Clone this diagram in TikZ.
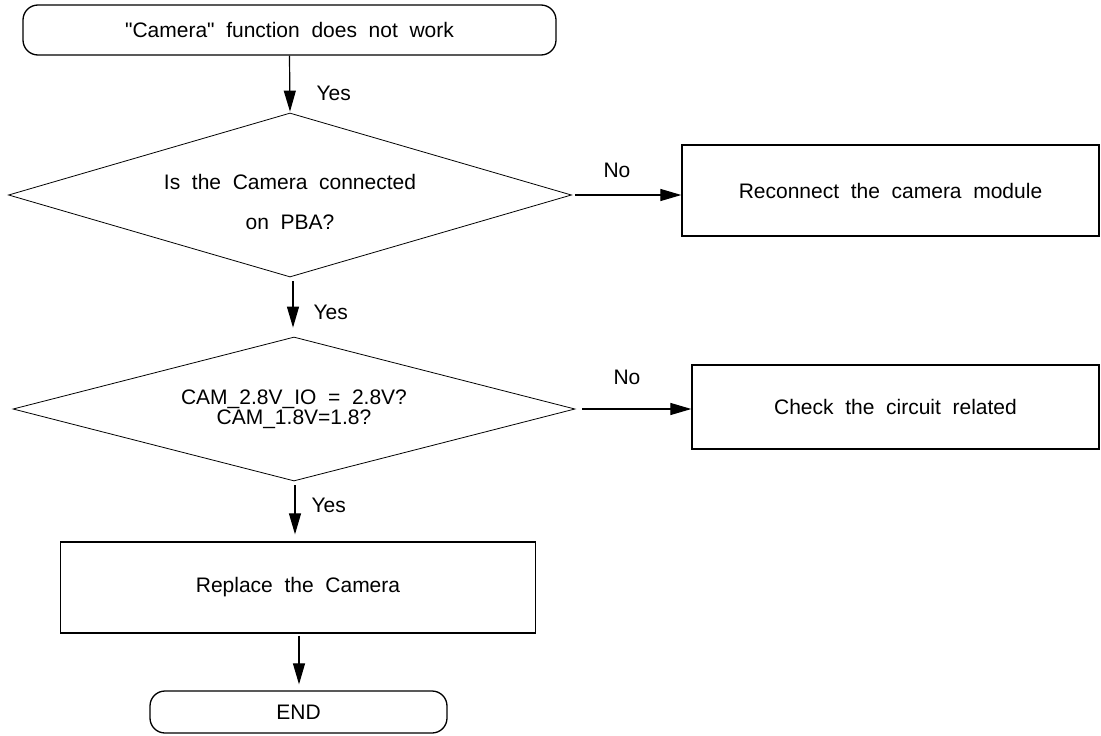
\documentclass[tikz,border=0pt]{standalone}
\usepackage{fontspec}
\setmainfont{Liberation Sans}[WordSpace=2]
\usetikzlibrary{arrows.meta,shapes.geometric}

\tikzset{
  every node/.style={font=\fontsize{21}{20}\selectfont},
  termbox/.style={draw, rounded corners=15pt, line width=1.3pt, inner sep=0pt},
  procbox/.style={draw, line width=1.3pt, inner sep=0pt},
  decision/.style={draw, diamond, line width=0.8pt, inner sep=0pt, align=center, aspect=3.5},
  flow/.style={-{Triangle[length=21pt,width=12pt]}, line width=1.2pt}
}

\begin{document}
\begin{tikzpicture}[x=1pt,y=-1pt]
\useasboundingbox (0,0) rectangle (1101,736);
% shapes
\node[termbox, minimum width=533pt, minimum height=50pt] (start) at (289.5,30) {\textquotedbl Camera\textquotedbl{} function does not work};
\node[decision, minimum width=563pt, minimum height=164pt] (ask1) at (290,195) {\rule{0pt}{29pt}Is the Camera connected\\[20pt]on PBA?};
\node[procbox, minimum width=417pt, minimum height=91pt] (fix1) at (890.5,190.5) {Reconnect the camera module};
\node[decision, minimum width=562pt, minimum height=144pt, aspect=3.9] (ask2) at (294,409) {CAM\_2.8V\_IO = 2.8V?\\CAM\_1.8V=1.8?};
\node[procbox, minimum width=407pt, minimum height=84pt] (fix2) at (895.5,407) {Check the circuit related};
\node[procbox, minimum width=475pt, minimum height=91pt] (swap) at (298,587.5) {Replace the Camera};
\node[termbox, minimum width=297pt, minimum height=42pt] (stop) at (298.5,712) {END};
% connectors
\draw[flow] (start.south) -- ([yshift=1pt]ask1.north);
\draw[flow] ([yshift=-4pt]ask1.south -| 293,0) -- ([yshift=9pt]ask2.north -| 293,0);
\draw[flow] ([yshift=-4pt]ask2.south -| 295,0) -- ([yshift=7pt]swap.north -| 295,0);
\draw[flow] ([yshift=-2pt]swap.south -| 299,0) -- ([yshift=6pt]stop.north -| 299,0);
\draw[flow] ([xshift=3pt]ask1.east) -- (ask1.east -| fix1.west);
\draw[flow] ([xshift=7pt]ask2.east) -- (ask2.east -| fix2.west);
% labels
\node (yes1) at (313,93) [anchor=west] {Yes};
\node (yes2) at (310,312) [anchor=west] {Yes};
\node (yes3) at (308,505) [anchor=west] {Yes};
\node (no1) at (617,170) {No};
\node (no2) at (627,377) {No};
\end{tikzpicture}
\end{document}
